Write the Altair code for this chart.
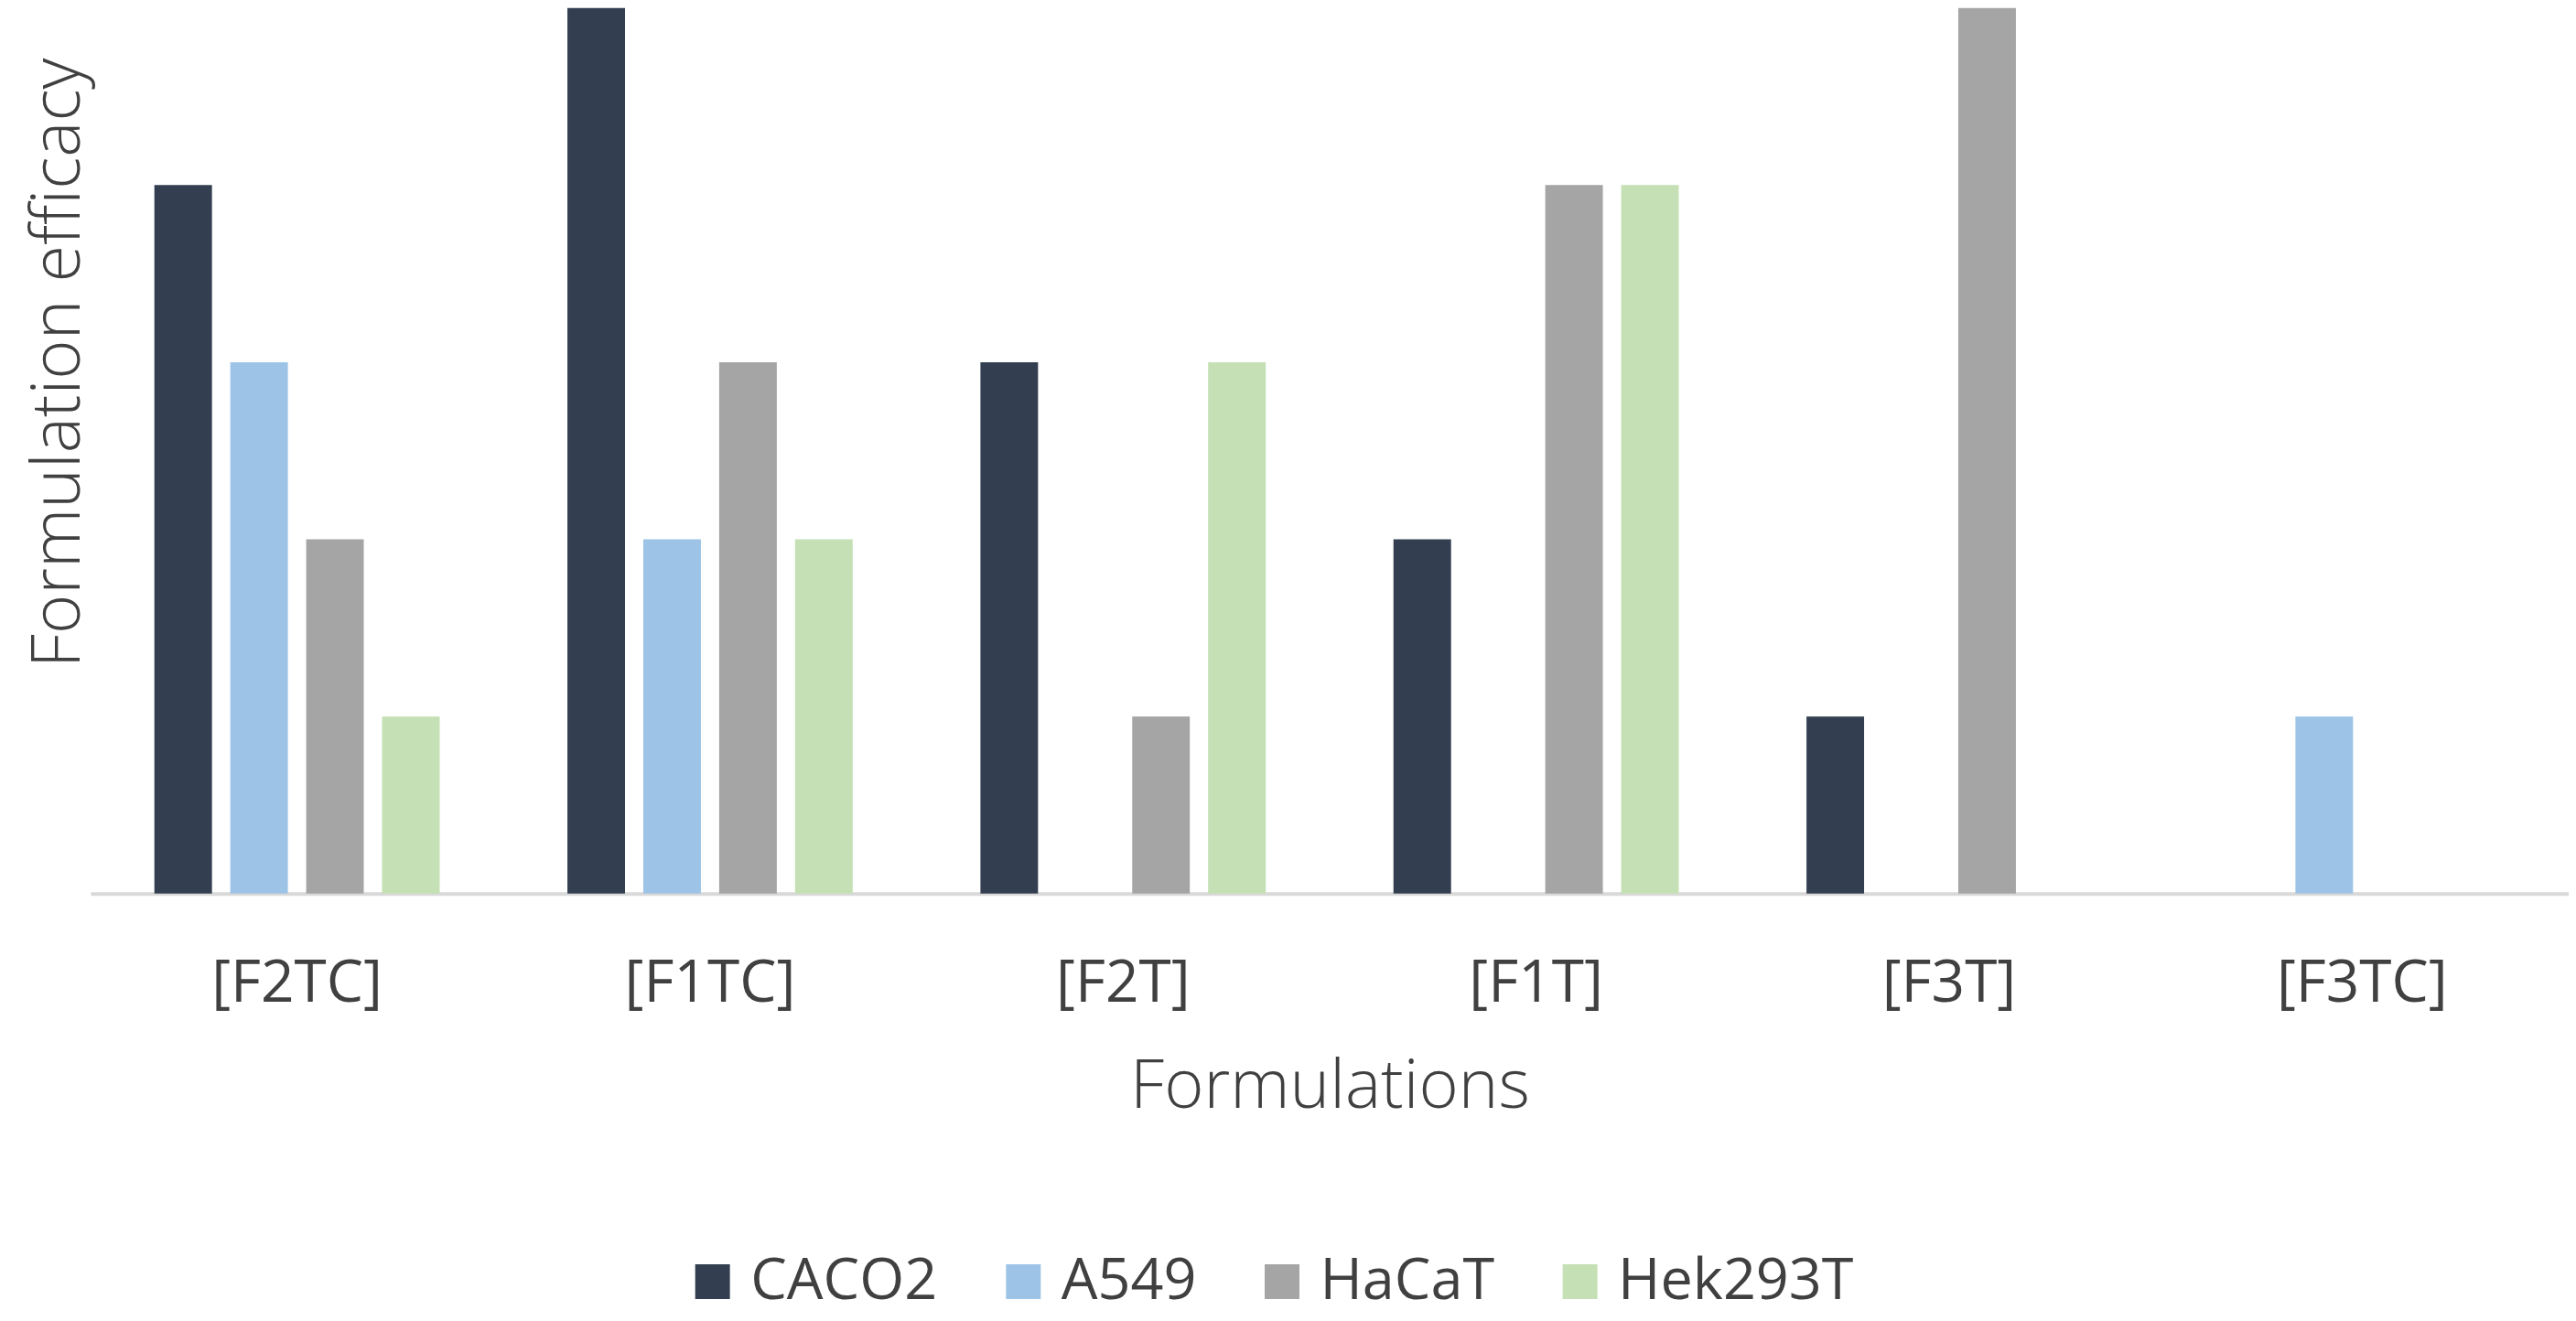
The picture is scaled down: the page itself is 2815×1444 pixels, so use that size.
import altair as alt
import pandas as pd

formulations = ["[F2TC]", "[F1TC]", "[F2T]", "[F1T]", "[F3T]", "[F3TC]"]
series = ["CACO2", "A549", "HaCaT", "Hek293T"]
caco2 = [4, 5, 3, 2, 1, 0]
a549 = [3, 2, 0, 0, 0, 1]
hacat = [2, 3, 1, 4, 5, 0]
hek293t = [1, 2, 3, 4, 0, 0]
colors = ["#333F50", "#9DC3E6", "#A5A5A5", "#C5E0B4"]

values = {"CACO2": caco2, "A549": a549, "HaCaT": hacat, "Hek293T": hek293t}
rows = []
for s in series:
    for f, v in zip(formulations, values[s]):
        rows.append({"Formulation": f, "Cell line": s, "Efficacy": v})
df = pd.DataFrame(rows)

FONT = "Open Sans"
TXT = "#404040"

chart = (
    alt.Chart(df)
    .mark_bar()
    .encode(
        x=alt.X(
            "Formulation:N",
            sort=formulations,
            scale=alt.Scale(paddingInner=0.265, paddingOuter=0.1325),
            axis=alt.Axis(
                title="Formulations",
                labelAngle=0,
                ticks=False,
                tickSize=0,
                domainColor="#D9D9D9",
                domainWidth=4,
                labelPadding=118,
                labelBaseline="alphabetic",
                labelFontSize=64,
                labelFont=FONT,
                labelColor=TXT,
                labelLimit=1000,
                titleFont=FONT,
                titleFontSize=74,
                titleFontWeight=300,
                titleColor=TXT,
                titleBaseline="alphabetic",
                titleY=234,
            ),
        ),
        xOffset=alt.XOffset(
            "Cell line:N",
            sort=series,
            scale=alt.Scale(paddingInner=0.241, paddingOuter=0.1205),
        ),
        y=alt.Y(
            "Efficacy:Q",
            scale=alt.Scale(domain=[0, 5], nice=False),
            axis=alt.Axis(
                title="Formulation efficacy",
                labels=False,
                ticks=False,
                domain=False,
                grid=False,
                titleFont=FONT,
                titleFontSize=74,
                titleFontWeight=300,
                titleColor=TXT,
                titleAngle=270,
                titleAlign="center",
                titleBaseline="alphabetic",
                titleX=-12,
                titleY=388,
                titleLimit=2000,
            ),
        ),
        color=alt.Color(
            "Cell line:N",
            sort=series,
            scale=alt.Scale(domain=series, range=colors),
            legend=alt.Legend(
                title=None,
                orient="none",
                direction="horizontal",
                columns=4,
                legendX=649,
                legendY=1362,
                symbolType="square",
                symbolSize=1444,
                symbolStrokeWidth=0,
                labelFont=FONT,
                labelFontSize=63,
                labelColor=TXT,
                labelOffset=10,
                labelLimit=1000,
                columnPadding=62,
                padding=0,
            ),
        ),
    )
    .properties(
        width=2711,
        height=969,
        padding={"left": 91, "top": 0, "right": 0, "bottom": 460},
        autosize=alt.AutoSizeParams(type="none"),
        background="white",
    )
    .configure_view(stroke=None)
)

chart.save("out.html", embed_options={"renderer": "svg", "actions": False})
